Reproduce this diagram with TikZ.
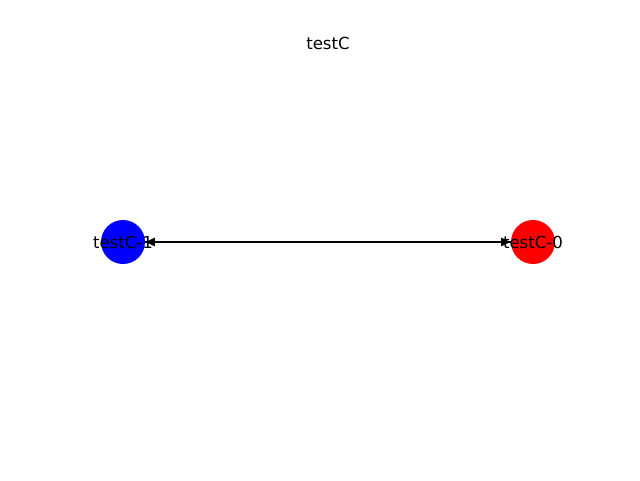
\documentclass[tikz,border=0pt]{standalone}
\usepackage{fontspec}
\setmainfont{DejaVu Sans}
\usetikzlibrary{arrows.meta}

\tikzset{
  vtx/.style={circle, minimum size=1.1cm, inner sep=0pt, font=\fontsize{11.8}{14}\selectfont},
  edge/.style={-{Triangle[length=0.24cm,width=0.2cm]}, line width=1.8pt, black}
}

\begin{document}
\begin{tikzpicture}
\useasboundingbox (0,0) rectangle (16,12);
	\node[vtx, fill=blue] (c1) at (3.075,5.95) {};
	\node[vtx, fill=red] (c0) at (13.325,5.95) {};
	\draw[edge] (c1) -- (c0);
	\draw[edge] (c0) -- (c1);
	\node[font=\fontsize{11.8}{14}\selectfont] (l1) at (c1) {testC-1};
	\node[font=\fontsize{11.8}{14}\selectfont] (l0) at (c0) {testC-0};
	\node[font=\fontsize{11.8}{14}\selectfont] (title) at (8.2,10.925) {testC};
\end{tikzpicture}
\end{document}
